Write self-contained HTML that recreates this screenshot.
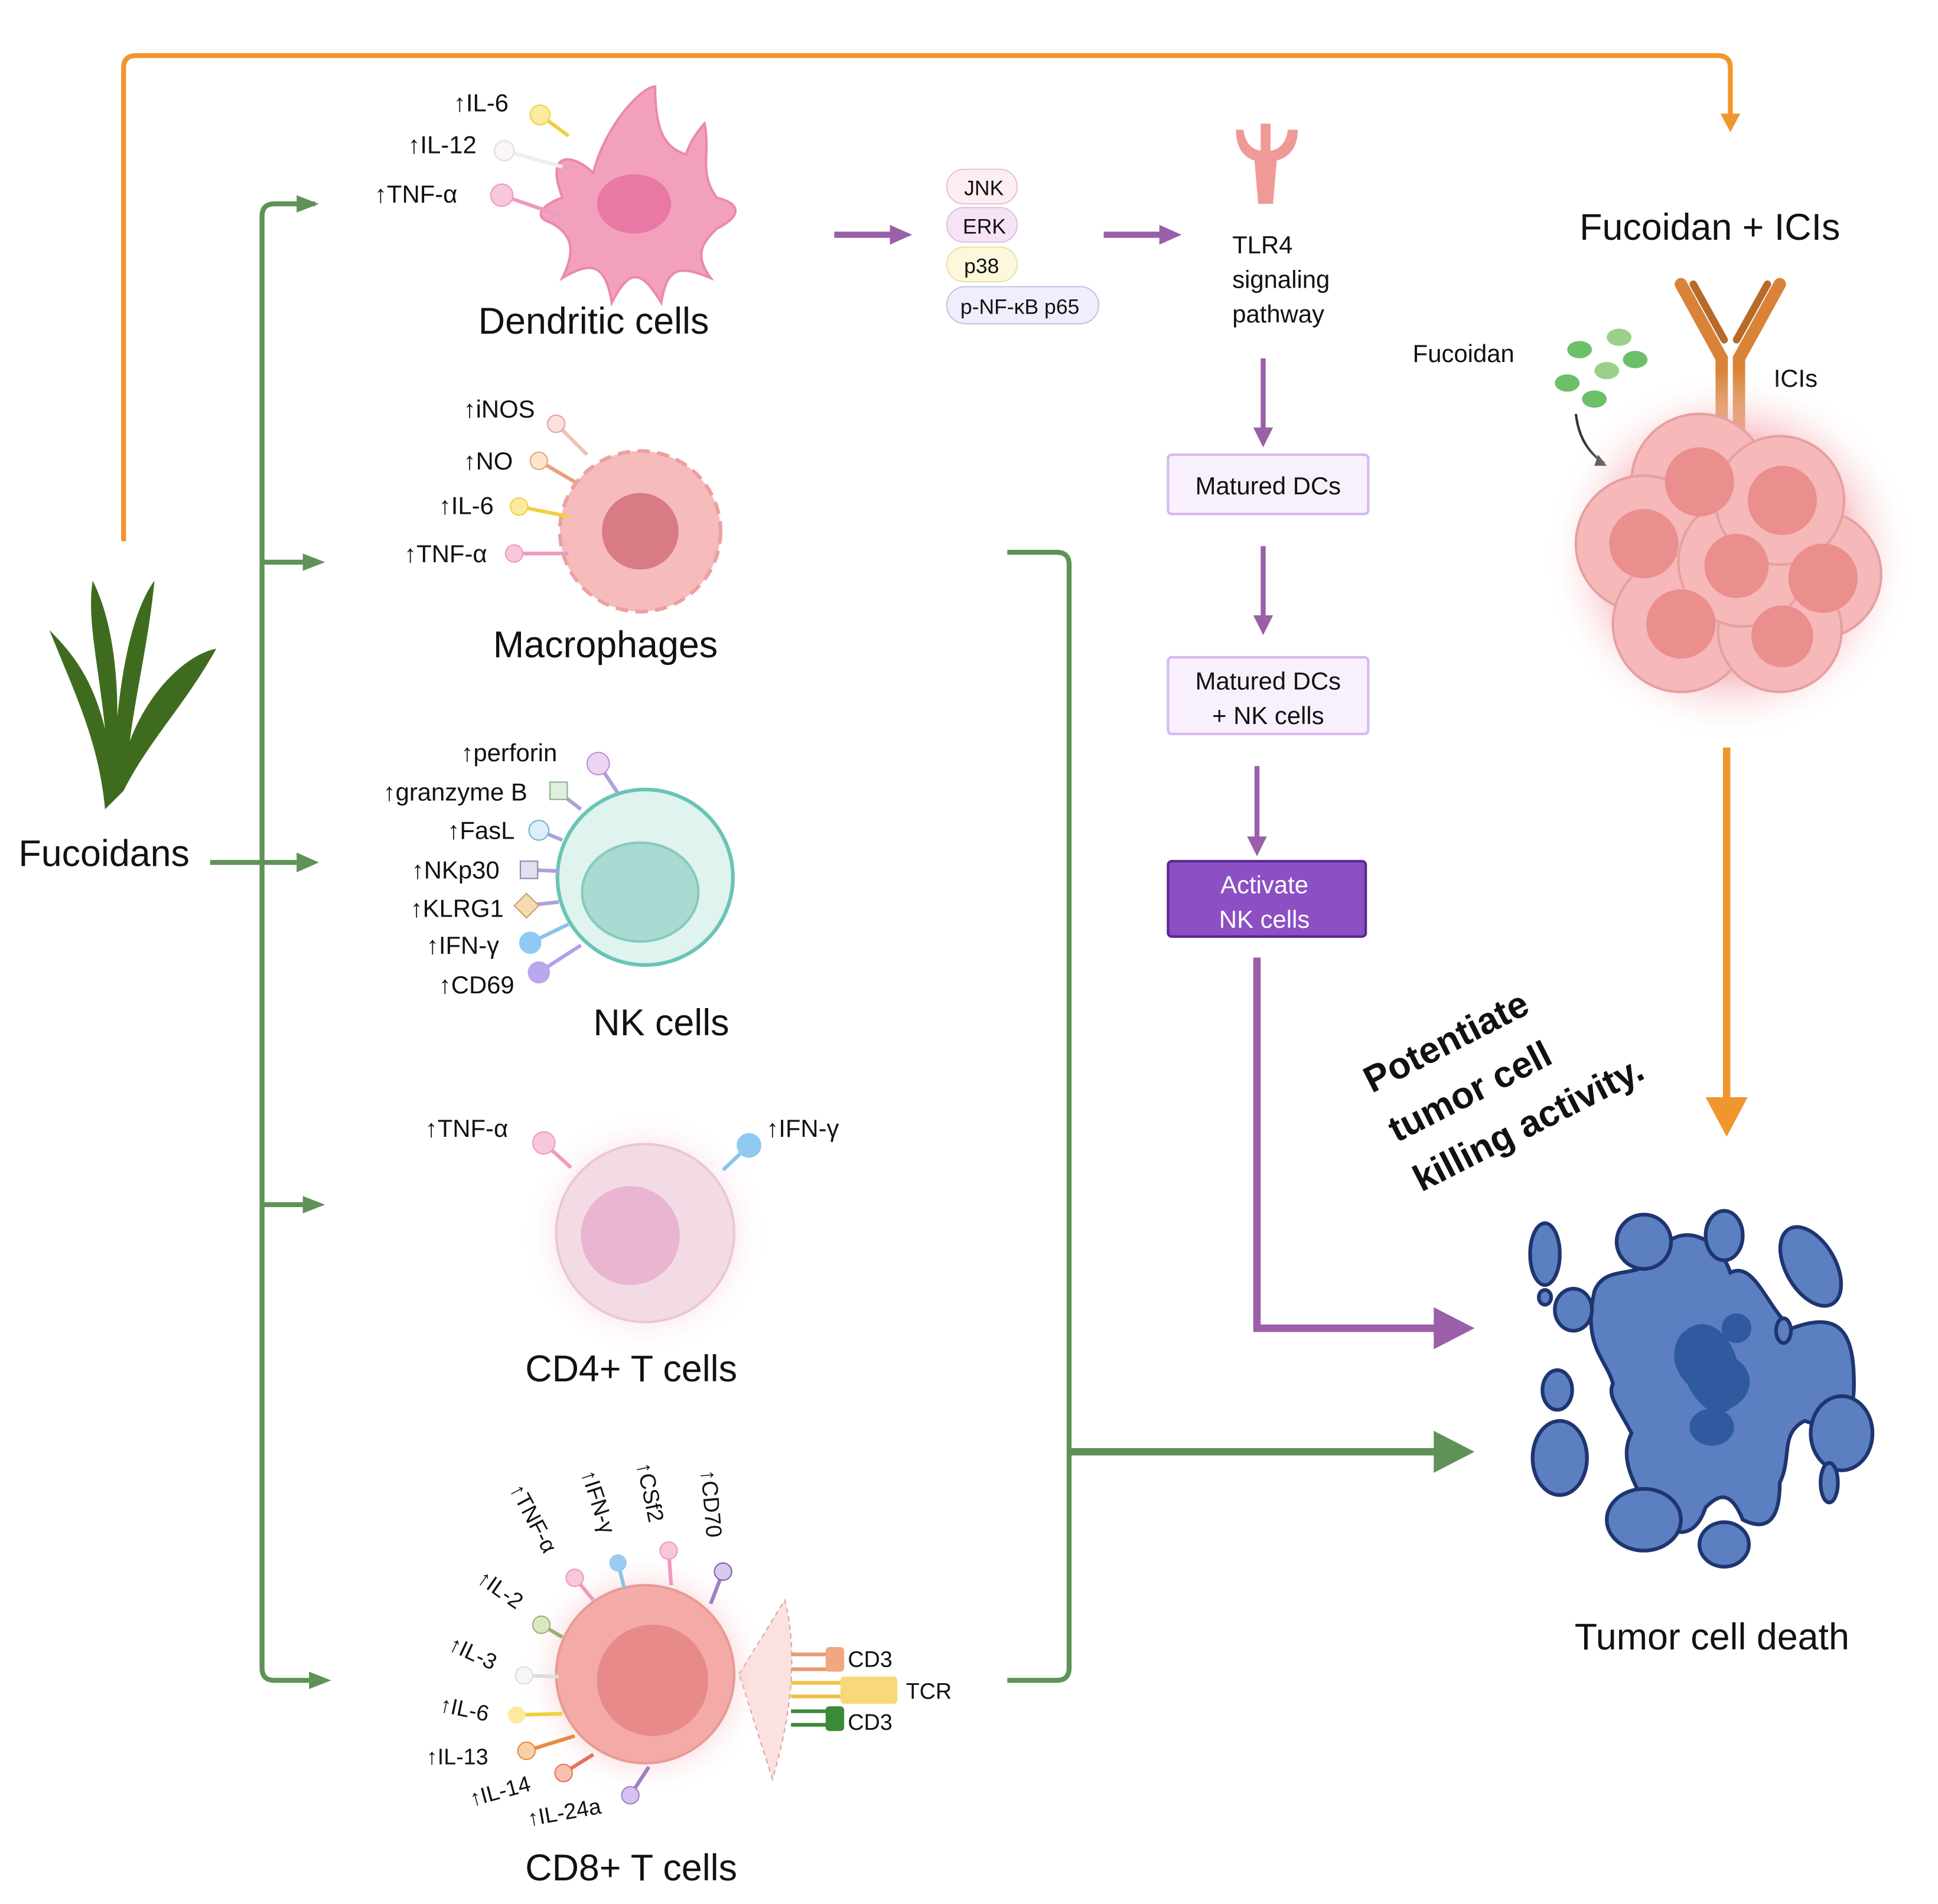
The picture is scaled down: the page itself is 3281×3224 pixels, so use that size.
<!DOCTYPE html>
<html><head><meta charset="utf-8"><style>
html,body{margin:0;padding:0;background:#fff;}
svg{display:block;}
text{font-family:"Liberation Sans",sans-serif;fill:#111;}
</style></head><body>
<svg width="3281" height="3224" viewBox="0 0 1568 1541" preserveAspectRatio="none" xmlns="http://www.w3.org/2000/svg">
<defs>
<radialGradient id="glow" cx="50%" cy="50%" r="50%"><stop offset="60%" stop-color="#f4a0a8" stop-opacity="0.8"/><stop offset="100%" stop-color="#fff" stop-opacity="0"/></radialGradient>
<radialGradient id="glow2" cx="50%" cy="50%" r="50%"><stop offset="55%" stop-color="#f6c6dc" stop-opacity="0.7"/><stop offset="100%" stop-color="#fff" stop-opacity="0"/></radialGradient>
</defs>
<!-- orange top connector -->
<path d="M100 438 V55 Q100 45 110 45 H1390 Q1400 45 1400 55 V95" fill="none" stroke="#f0962e" stroke-width="4"/>
<polygon points="1392,92 1408,92 1400,107" fill="#f0962e"/>
<!-- green tree -->
<g stroke="#5e9257" stroke-width="4" fill="none">
<path d="M170 698 H240"/>
<path d="M255 165 H222 Q212 165 212 175 V1350 Q212 1360 222 1360 H250"/>
<path d="M212 455 H245"/><path d="M212 975 H245"/>
<path d="M815 447 H855 Q865 447 865 457 V1350 Q865 1360 855 1360 H815"/>
<path d="M865 1175 H1165" stroke-width="6"/>
</g>
<g fill="#5e9257">
<polygon points="240,158 258,165 240,172"/><polygon points="245,448 263,455 245,462"/>
<polygon points="240,690 258,698 240,706"/><polygon points="245,968 263,975 245,982"/>
<polygon points="250,1353 268,1360 250,1367"/><polygon points="1160,1158 1193,1175 1160,1192"/>
</g>
<!-- seaweed -->
<g fill="#3f6b1e">
<path d="M85 655 C80 600 60 560 40 510 C60 530 75 550 85 590 C80 540 70 500 75 470 C90 500 95 540 95 580 C100 530 110 490 125 470 C120 520 110 560 105 600 C120 560 150 530 175 525 C150 570 120 600 100 640 Z"/>
</g>
<text x="15" y="701" font-size="30">Fucoidans</text>
<!-- dendritic cell -->
<path d="M455 160 C440 120 465 125 480 140 C490 100 520 70 530 70 C530 110 540 120 555 125 C560 110 570 100 570 100 C575 125 565 140 580 160 C600 165 600 175 580 185 C570 195 560 205 575 225 C550 215 540 215 535 245 C520 220 510 215 495 245 C490 215 480 210 455 225 C465 205 465 190 445 180 C430 175 440 165 455 160Z" fill="#f3a0bd" stroke="#e98aae" stroke-width="2"/>
<ellipse cx="513" cy="165" rx="30" ry="24" fill="#e978a4"/>
<g stroke-width="3"><line x1="437" y1="93" x2="460" y2="110" stroke="#f0d040"/><line x1="408" y1="122" x2="455" y2="135" stroke="#eee"/><line x1="406" y1="158" x2="455" y2="175" stroke="#ef9ac0"/></g>
<circle cx="437" cy="93" r="8" fill="#fbeba0" stroke="#f0d040"/><circle cx="408" cy="122" r="8" fill="#fbf4f8" stroke="#ddd"/><circle cx="406" cy="158" r="9" fill="#f7c7dc" stroke="#ef9ac0"/>
<text x="367" y="90" font-size="20">↑IL-6</text><text x="330" y="124" font-size="20">↑IL-12</text><text x="303" y="164" font-size="20">↑TNF-α</text>
<text x="387" y="270" font-size="30">Dendritic cells</text>
<!-- macrophage -->
<g transform="translate(518,430)">
<circle r="65" fill="#f6bcbc" stroke="#eca0a0" stroke-width="3" stroke-dasharray="10 6"/>
<circle r="58" fill="#f6bcbc"/>
<circle r="31" fill="#d97b84"/>
</g>
<g stroke-width="3"><line x1="450" y1="343" x2="475" y2="368" stroke="#f2c0b8"/><line x1="436" y1="373" x2="465" y2="390" stroke="#e8a27a"/><line x1="420" y1="410" x2="460" y2="418" stroke="#f0d040"/><line x1="416" y1="448" x2="460" y2="448" stroke="#ef9ac0"/></g>
<circle cx="450" cy="343" r="7" fill="#fbe0dc" stroke="#e8a0a0"/><circle cx="436" cy="373" r="7" fill="#fde6cc" stroke="#e8a27a"/><circle cx="420" cy="410" r="7" fill="#fbeba0" stroke="#f0d040"/><circle cx="416" cy="448" r="7" fill="#f7c7dc" stroke="#ef9ac0"/>
<text x="375" y="338" font-size="20">↑iNOS</text><text x="375" y="380" font-size="20">↑NO</text><text x="355" y="416" font-size="20">↑IL-6</text><text x="327" y="455" font-size="20">↑TNF-α</text>
<text x="399" y="532" font-size="30">Macrophages</text>
<!-- NK cell -->
<circle cx="522" cy="710" r="71" fill="#dff3ef" stroke="#6ac4b6" stroke-width="3"/>
<ellipse cx="518" cy="722" rx="47" ry="40" fill="#a9dbd2" stroke="#86cabe" stroke-width="2"/>
<g stroke="#b0a0d8" stroke-width="3"><line x1="484" y1="618" x2="500" y2="642"/><line x1="452" y1="641" x2="470" y2="655"/><line x1="436" y1="672" x2="455" y2="680"/><line x1="428" y1="704" x2="452" y2="705"/><line x1="426" y1="733" x2="452" y2="730"/><line x1="429" y1="763" x2="460" y2="748" stroke="#8ac4ea"/><line x1="436" y1="787" x2="470" y2="765" stroke="#b0a0ea"/></g>
<circle cx="484" cy="618" r="9" fill="#ead6f0" stroke="#c58ad6"/><rect x="445" y="633" width="14" height="14" fill="#e0f0dc" stroke="#8ab08a"/><circle cx="436" cy="672" r="8" fill="#dceffa" stroke="#7ab0d0"/><rect x="421" y="697" width="14" height="14" fill="#e0e0f0" stroke="#8a8ab0"/><rect x="419" y="726" width="14" height="14" fill="#f4dcb0" stroke="#c8a070" transform="rotate(45 426 733)"/><circle cx="429" cy="763" r="9" fill="#8fcaf2"/><circle cx="436" cy="787" r="9" fill="#b9a6ee"/>
<text x="373" y="616" font-size="20">↑perforin</text><text x="310" y="648" font-size="20">↑granzyme B</text><text x="362" y="679" font-size="20">↑FasL</text><text x="333" y="711" font-size="20">↑NKp30</text><text x="332" y="742" font-size="20">↑KLRG1</text><text x="345" y="772" font-size="20">↑IFN-γ</text><text x="355" y="804" font-size="20">↑CD69</text>
<text x="480" y="838" font-size="30">NK cells</text>
<!-- CD4 -->
<circle cx="522" cy="998" r="100" fill="url(#glow2)"/>
<circle cx="522" cy="998" r="72" fill="#f3dbe6" stroke="#ecc6d6" stroke-width="2"/>
<circle cx="510" cy="1000" r="40" fill="#e9b5d0"/>
<line x1="440" y1="925" x2="462" y2="945" stroke="#ef9ac0" stroke-width="3"/><line x1="606" y1="927" x2="585" y2="947" stroke="#8ac4ea" stroke-width="3"/>
<circle cx="440" cy="925" r="9" fill="#f7c7dc" stroke="#ef9ac0"/><circle cx="606" cy="927" r="10" fill="#8fcaf2"/>
<text x="344" y="920" font-size="20">↑TNF-α</text><text x="620" y="920" font-size="20">↑IFN-γ</text>
<text x="425" y="1118" font-size="30">CD4+ T cells</text>
<!-- CD8 -->
<path d="M598 1355 L635 1295 Q650 1355 625 1440 Z" fill="#fbe2e0" stroke="#e0a0a0" stroke-dasharray="4 3"/>
<circle cx="522" cy="1355" r="100" fill="url(#glow)" opacity="0.6"/>
<circle cx="522" cy="1355" r="72" fill="#f4aaa6" stroke="#e89a96" stroke-width="2"/>
<circle cx="528" cy="1360" r="45" fill="#e88a8a"/>
<g stroke-width="3">
<line x1="465" y1="1277" x2="480" y2="1295" stroke="#ef9ac0"/><line x1="500" y1="1265" x2="505" y2="1285" stroke="#8ac4ea"/><line x1="541" y1="1255" x2="543" y2="1283" stroke="#ef9ac0"/><line x1="585" y1="1272" x2="575" y2="1298" stroke="#a080c0"/>
<line x1="438" y1="1315" x2="455" y2="1325" stroke="#9ab07a"/><line x1="424" y1="1356" x2="452" y2="1357" stroke="#ddd"/><line x1="418" y1="1388" x2="455" y2="1387" stroke="#f0d040"/><line x1="426" y1="1417" x2="465" y2="1405" stroke="#e88a40"/><line x1="456" y1="1435" x2="480" y2="1420" stroke="#e8705a"/><line x1="510" y1="1453" x2="525" y2="1430" stroke="#a080c0"/>
<line x1="640" y1="1339" x2="670" y2="1339" stroke="#e89a70"/><line x1="640" y1="1351" x2="670" y2="1351" stroke="#e89a70"/><line x1="640" y1="1362" x2="680" y2="1362" stroke="#f0c040"/><line x1="640" y1="1373" x2="680" y2="1373" stroke="#f0c040"/><line x1="640" y1="1385" x2="670" y2="1385" stroke="#3a8a3a"/><line x1="640" y1="1396" x2="670" y2="1396" stroke="#3a8a3a"/>
</g>
<rect x="668" y="1333" width="15" height="20" rx="3" fill="#f0a880"/><rect x="680" y="1357" width="46" height="22" rx="3" fill="#f8d878"/><rect x="668" y="1381" width="15" height="20" rx="3" fill="#3a8a3a"/>
<circle cx="465" cy="1277" r="7" fill="#f7c7dc" stroke="#ef9ac0"/><circle cx="500" cy="1265" r="7" fill="#9ccaf0"/><circle cx="541" cy="1255" r="7" fill="#f7c7dc" stroke="#ef9ac0"/><circle cx="585" cy="1272" r="7" fill="#d8c8f0" stroke="#8060a0"/><circle cx="438" cy="1315" r="7" fill="#d8e8c0" stroke="#9ab07a"/><circle cx="424" cy="1356" r="7" fill="#f6f6f6" stroke="#ddd"/><circle cx="418" cy="1388" r="7" fill="#fbeba0"/><circle cx="426" cy="1417" r="7" fill="#fbd0a8" stroke="#e88a40"/><circle cx="456" cy="1435" r="7" fill="#f8c0b0" stroke="#e8705a"/><circle cx="510" cy="1453" r="7" fill="#d8c0f0" stroke="#a080c0"/>
<text font-size="18" transform="translate(412,1205) rotate(62)">↑TNF-α</text><text font-size="18" transform="translate(470,1192) rotate(72)">↑IFN-γ</text><text font-size="18" transform="translate(515,1185) rotate(78)">↑CSf2</text><text font-size="18" transform="translate(567,1190) rotate(85)">↑CD70</text>
<text font-size="18" transform="translate(385,1280) rotate(35)">↑IL-2</text><text font-size="18" transform="translate(362,1335) rotate(25)">↑IL-3</text><text font-size="18" transform="translate(355,1385) rotate(12)">↑IL-6</text><text x="345" y="1428" font-size="18">↑IL-13</text><text font-size="18" transform="translate(382,1462) rotate(-15)">↑IL-14</text><text font-size="18" transform="translate(428,1478) rotate(-10)">↑IL-24a</text>
<text x="686" y="1349" font-size="18">CD3</text><text x="733" y="1375" font-size="18">TCR</text><text x="686" y="1400" font-size="18">CD3</text>
<text x="425" y="1522" font-size="30">CD8+ T cells</text>
<!-- DC pathway -->
<g fill="#9b5ea8"><path d="M675 190 H722" stroke="#9b5ea8" stroke-width="5"/><polygon points="720,182 738,190 720,198"/><path d="M893 190 H940" stroke="#9b5ea8" stroke-width="5"/><polygon points="938,182 956,190 938,198"/></g>
<rect x="766" y="137" width="57" height="28" rx="14" fill="#fdeef3" stroke="#eac0d0"/><text x="780" y="158" font-size="17">JNK</text>
<rect x="766" y="168" width="57" height="28" rx="14" fill="#f6e4f6" stroke="#dcc0e8"/><text x="779" y="189" font-size="17">ERK</text>
<rect x="766" y="200" width="57" height="28" rx="14" fill="#fdf8dc" stroke="#ece0a0"/><text x="780" y="221" font-size="17">p38</text>
<rect x="766" y="232" width="123" height="30" rx="15" fill="#efeefc" stroke="#c8c0e8"/><text x="777" y="254" font-size="17">p-NF-κB p65</text>
<path d="M1000 105 Q1000 125 1015 130 L1018 165 L1030 165 L1033 130 Q1050 125 1050 105 L1042 105 Q1040 120 1028 122 L1028 100 L1020 100 L1020 122 Q1008 120 1006 105Z" fill="#f09a98"/>
<text x="997" y="205" font-size="20">TLR4</text><text x="997" y="233" font-size="20">signaling</text><text x="997" y="261" font-size="20">pathway</text>
<g stroke="#9b5ea8" stroke-width="4" fill="none"><path d="M1022 290 V350"/><path d="M1022 442 V500"/><path d="M1017 620 V680"/><path d="M1017 775 V1075 H1165" stroke-width="6"/></g>
<g fill="#9b5ea8"><polygon points="1014,346 1030,346 1022,362"/><polygon points="1014,498 1030,498 1022,514"/><polygon points="1009,677 1025,677 1017,693"/><polygon points="1160,1058 1193,1075 1160,1092"/></g>
<rect x="945" y="368" width="162" height="48" rx="3" fill="#f9f0fd" stroke="#d6b8ee" stroke-width="2"/><text x="1026" y="400" font-size="20" text-anchor="middle">Matured DCs</text>
<rect x="945" y="532" width="162" height="62" rx="3" fill="#f9f0fd" stroke="#d6b8ee" stroke-width="2"/><text x="1026" y="558" font-size="20" text-anchor="middle">Matured DCs</text><text x="1026" y="586" font-size="20" text-anchor="middle">+ NK cells</text>
<rect x="945" y="697" width="160" height="61" rx="3" fill="#8c4fc4" stroke="#5a2a8a" stroke-width="2"/><text x="1023" y="723" font-size="20" text-anchor="middle" style="fill:#fff">Activate</text><text x="1023" y="751" font-size="20" text-anchor="middle" style="fill:#fff">NK cells</text>
<!-- Fucoidan + ICIs -->
<text x="1278" y="194" font-size="30">Fucoidan + ICIs</text>
<text x="1143" y="293" font-size="20">Fucoidan</text><text x="1435" y="313" font-size="20">ICIs</text>
<g fill="#6cc06a"><ellipse cx="1278" cy="283" rx="10" ry="7"/><ellipse cx="1310" cy="273" rx="10" ry="7" fill="#9bd08a"/><ellipse cx="1300" cy="300" rx="10" ry="7" fill="#9bd08a"/><ellipse cx="1323" cy="291" rx="10" ry="7"/><ellipse cx="1268" cy="310" rx="10" ry="7"/><ellipse cx="1290" cy="323" rx="10" ry="7"/></g>
<path d="M1275 335 Q1278 362 1298 375" fill="none" stroke="#333" stroke-width="2"/><polygon points="1293,368 1300,377 1290,377" fill="#333"/>
<g stroke="#d98338" stroke-width="10" fill="none" stroke-linecap="round"><path d="M1393 350 V290 L1360 230"/><path d="M1407 350 V290 L1440 230"/></g>
<g stroke="#b86a28" stroke-width="6" stroke-linecap="round"><path d="M1370 230 L1395 275"/><path d="M1430 230 L1405 275"/></g>
<circle cx="1400" cy="450" r="150" fill="url(#glow)"/>
<g stroke="#e6a0a0" stroke-width="2">
<circle cx="1375" cy="390" r="55" fill="#f6b8b8"/><circle cx="1330" cy="440" r="55" fill="#f6b8b8"/><circle cx="1470" cy="465" r="52" fill="#f6b8b8"/><circle cx="1360" cy="505" r="55" fill="#f6b8b8"/><circle cx="1440" cy="510" r="50" fill="#f6b8b8"/><circle cx="1410" cy="455" r="52" fill="#f6b8b8"/><circle cx="1440" cy="405" r="52" fill="#f6b8b8"/>
</g>
<g fill="#ea8e8e"><circle cx="1375" cy="390" r="28"/><circle cx="1330" cy="440" r="28"/><circle cx="1475" cy="468" r="28"/><circle cx="1360" cy="505" r="28"/><circle cx="1442" cy="515" r="25"/><circle cx="1405" cy="458" r="26"/><circle cx="1442" cy="405" r="28"/></g>
<path d="M1397 605 V890" stroke="#f0962e" stroke-width="6"/><polygon points="1380,888 1414,888 1397,920" fill="#f0962e"/>
<text font-size="30" font-weight="bold" transform="translate(1110,885) rotate(-27)">Potentiate</text>
<text font-size="30" font-weight="bold" transform="translate(1130,925) rotate(-27)">tumor cell</text>
<text font-size="30" font-weight="bold" transform="translate(1150,965) rotate(-27)">killing activity.</text>
<!-- tumor -->
<g fill="#5b7fc0" stroke="#1f3570" stroke-width="3">
<path d="M1290 1045 C1300 1020 1330 1040 1345 1010 C1360 990 1390 1000 1400 1030 C1420 1020 1430 1060 1450 1075 C1490 1060 1500 1080 1500 1120 C1500 1150 1490 1160 1460 1150 C1440 1160 1450 1180 1440 1200 C1440 1230 1430 1240 1410 1230 C1400 1205 1390 1210 1380 1220 C1370 1250 1350 1240 1340 1230 C1320 1200 1310 1180 1320 1160 C1310 1140 1300 1130 1305 1120 C1300 1100 1280 1090 1290 1045Z"/>
<ellipse cx="1250" cy="1015" rx="12" ry="25"/><ellipse cx="1273" cy="1060" rx="15" ry="17" /><ellipse cx="1330" cy="1005" rx="22" ry="22"/><ellipse cx="1395" cy="1000" rx="15" ry="20"/><ellipse cx="1465" cy="1025" rx="20" ry="35" transform="rotate(-30 1465 1025)"/><ellipse cx="1260" cy="1125" rx="12" ry="16"/><ellipse cx="1262" cy="1180" rx="22" ry="30"/><ellipse cx="1490" cy="1160" rx="25" ry="30"/><ellipse cx="1480" cy="1200" rx="7" ry="16"/><ellipse cx="1330" cy="1230" rx="30" ry="25"/><ellipse cx="1395" cy="1250" rx="20" ry="18"/><ellipse cx="1250" cy="1050" rx="5" ry="6"/><ellipse cx="1443" cy="1077" rx="6" ry="10"/>
</g>
<g fill="#2f5aa0"><path d="M1360 1080 C1380 1060 1400 1080 1405 1100 C1420 1110 1420 1130 1400 1140 C1390 1150 1375 1140 1365 1120 C1355 1110 1350 1095 1360 1080Z"/><ellipse cx="1385" cy="1155" rx="18" ry="15"/><ellipse cx="1405" cy="1075" rx="12" ry="12"/></g>
<text x="1274" y="1335" font-size="30">Tumor cell death</text>
</svg>
</body></html>
